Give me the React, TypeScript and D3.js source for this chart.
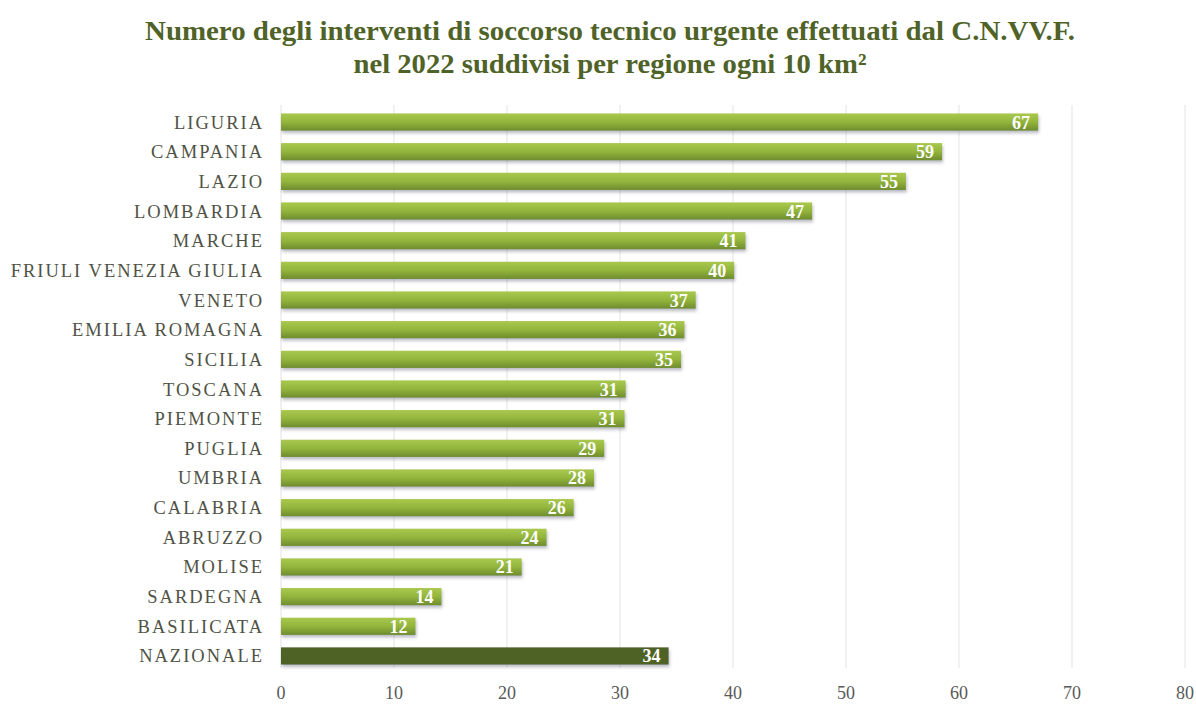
import React from "react";
import * as d3 from "d3";

const regions = [
  "LIGURIA", "CAMPANIA", "LAZIO", "LOMBARDIA", "MARCHE", "FRIULI VENEZIA GIULIA",
  "VENETO", "EMILIA ROMAGNA", "SICILIA", "TOSCANA", "PIEMONTE", "PUGLIA",
  "UMBRIA", "CALABRIA", "ABRUZZO", "MOLISE", "SARDEGNA", "BASILICATA", "NAZIONALE",
];
const values = [67.0, 58.5, 55.3, 47.0, 41.1, 40.1, 36.7, 35.7, 35.4, 30.5, 30.4, 28.6, 27.7, 25.9, 23.5, 21.3, 14.2, 11.9, 34.3];
const valueLabels = ["67", "59", "55", "47", "41", "40", "37", "36", "35", "31", "31", "29", "28", "26", "24", "21", "14", "12", "34"];
const ticks = [0, 10, 20, 30, 40, 50, 60, 70, 80];
const titleLines = [
  "Numero degli interventi di soccorso tecnico urgente effettuati  dal C.N.VV.F.",
  "nel 2022 suddivisi per regione ogni 10 km²",
];

export default function App() {
  const W = 1196, H = 704;
  const x = d3.scaleLinear().domain([0, 80]).range([281, 1185]);
  const y = d3.scaleBand().domain(regions).range([107.2, 670.8]).paddingInner(0.42).paddingOuter(0.21);
  const serif = "'Liberation Serif', 'Times New Roman', serif";
  return (
    <svg width={W} height={H} style={{ position: "absolute", left: 0, top: 0, background: "#fff" }}>
      <defs>
        <linearGradient id="gb" x1="0" y1="0" x2="0" y2="1">
          <stop offset="0" stopColor="#a9c84e" />
          <stop offset="0.5" stopColor="#93b53c" />
          <stop offset="1" stopColor="#6e8c2e" />
        </linearGradient>
        <filter id="sh" x="-5%" y="-30%" width="110%" height="180%">
          <feDropShadow dx="1" dy="2.5" stdDeviation="1.5" floodColor="#6a6a80" floodOpacity="0.45" />
        </filter>
      </defs>
      <rect width={W} height={H} fill="#fff" />
      {titleLines.map((t, i) => (
        <text key={i} x={610} y={i === 0 ? 40 : 73} textAnchor="middle" fontFamily={serif}
          fontWeight="bold" fontSize={28} fill="#4f6228"
          textLength={i === 0 ? 930 : 513} lengthAdjust="spacingAndGlyphs">{t}</text>
      ))}
      {ticks.slice(1).map((t) => (
        <line key={t} x1={x(t)} x2={x(t)} y1={105} y2={668} stroke="#e3e3e3" strokeWidth={1} />
      ))}
      <line x1={x(0)} x2={x(0)} y1={105} y2={668} stroke="#e3e3e3" />
      {ticks.map((t) => (
        <text key={t} x={x(t)} y={699} textAnchor="middle" fontFamily={serif} fontSize={18} fill="#595959">{t}</text>
      ))}
      {regions.map((r, i) => {
        const yy = y(r)!;
        const bw = y.bandwidth();
        const isNat = r === "NAZIONALE";
        return (
          <g key={r}>
            <text x={264} y={yy + bw / 2 + 6.5} textAnchor="end" fontFamily={serif} fontSize={18.5}
              letterSpacing={2.0} fill="#4f5245">{r}</text>
            <rect x={x(0)} y={yy} width={x(values[i]) - x(0)} height={bw}
              fill={isNat ? "#4f6228" : "url(#gb)"} filter="url(#sh)" />
            <text x={x(values[i]) - 8} y={yy + bw / 2 + 6.5} textAnchor="end" fontFamily={serif}
              fontWeight="bold" fontSize={18} fill="#ffffff">{valueLabels[i]}</text>
          </g>
        );
      })}
    </svg>
  );
}
